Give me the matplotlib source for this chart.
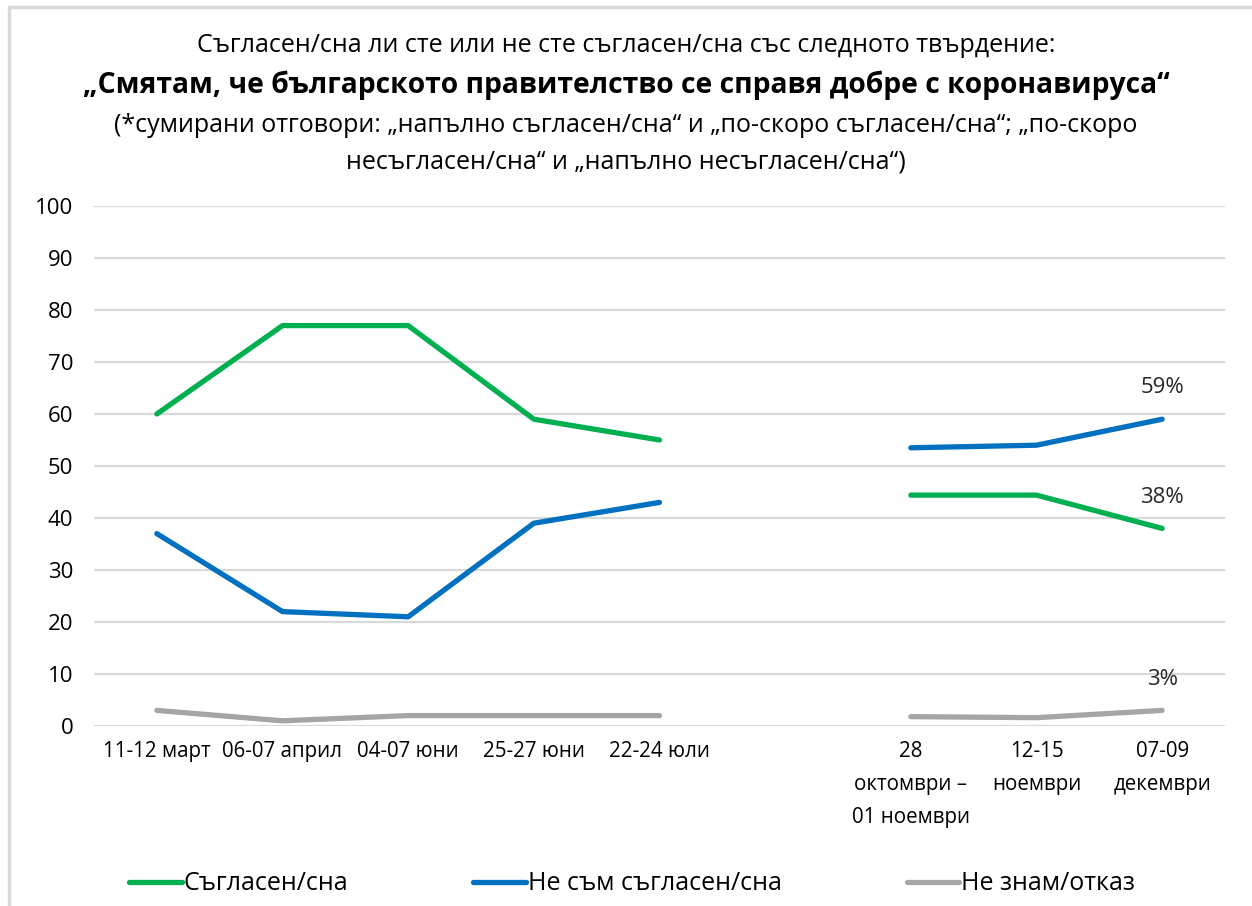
import matplotlib.pyplot as plt
import matplotlib.patches as patches
import numpy as np

plt.rcParams['font.family'] = ['Open Sans', 'DejaVu Sans']

# categories (one empty slot for the gap between July and October)
periods = ['11-12 март', '06-07 април', '04-07 юни', '25-27 юни', '22-24 юли', '',
           '28\nоктомври –\n01 ноември', '12-15\nноември', '07-09\nдекември']
agree = [60, 77, 77, 59, 55, np.nan, 44.4, 44.4, 38]
disagree = [37, 22, 21, 39, 43, np.nan, 53.5, 54, 59]
dont_know = [3, 1, 2, 2, 2, np.nan, 1.8, 1.6, 3]
last_labels = ['38%', '59%', '3%']

series_names = ['Съгласен/сна', 'Не съм съгласен/сна', 'Не знам/отказ']
colors = ['#00B050', '#0070C0', '#A5A5A5']

fig = plt.figure(figsize=(12.52, 9.06), dpi=100)

# light frame around the chart
fig.patches.append(patches.Rectangle((9 / 1252, -0.05), 1.2, (906 - 7) / 906 + 0.05,
                                     transform=fig.transFigure, fill=False,
                                     edgecolor='#d9d9d9', linewidth=2.5))

ax = fig.add_axes([94 / 1252, 180 / 906, (1225 - 94) / 1252, 520 / 906])

x = np.arange(len(periods))
for vals, name, col in zip([agree, disagree, dont_know], series_names, colors):
    ax.plot(x, vals, color=col, linewidth=3.8, solid_capstyle='round',
            solid_joinstyle='round', label=name)

# labels on the last point
for vals, lab in zip([agree, disagree, dont_know], last_labels):
    ax.annotate(lab, (x[-1], vals[-1]), xytext=(0, 15), textcoords='offset points',
                ha='center', va='bottom', fontsize=16, color='#262626')

ax.set_xlim(-0.5, len(periods) - 0.5)
ax.set_ylim(0, 100)
ax.set_yticks(range(0, 101, 10))
ax.set_xticks(x)
ax.set_xticklabels(periods, fontsize=14.8, linespacing=1.75, va='top')
ax.tick_params(axis='y', labelsize=16, length=0, pad=15)
ax.tick_params(axis='x', length=0, pad=11)
ax.grid(axis='y', color='#d9d9d9', linewidth=1.6)
ax.set_axisbelow(True)
for s in ax.spines.values():
    s.set_visible(False)

fig.text(0.5, 1 - 45 / 906, 'Съгласен/сна ли сте или не сте съгласен/сна със следното твърдение:',
         ha='center', va='center', fontsize=18)
fig.text(0.5, 1 - 85 / 906, '„Смятам, че българското правителство се справя добре с коронавируса“',
         ha='center', va='center', fontsize=20.3, fontweight='bold')
fig.text(0.5, 1 - 126 / 906, '(*сумирани отговори: „напълно съгласен/сна“ и „по-скоро съгласен/сна“; „по-скоро',
         ha='center', va='center', fontsize=18)
fig.text(0.5, 1 - 162 / 906, 'несъгласен/сна“ и „напълно несъгласен/сна“)',
         ha='center', va='center', fontsize=18)

fig.legend(loc='center', bbox_to_anchor=(0.505, 1 - 884 / 906), ncol=3, frameon=False,
           fontsize=18, handlelength=2.1, handletextpad=0.08, columnspacing=5.0)

plt.savefig('out.png', dpi=100)
